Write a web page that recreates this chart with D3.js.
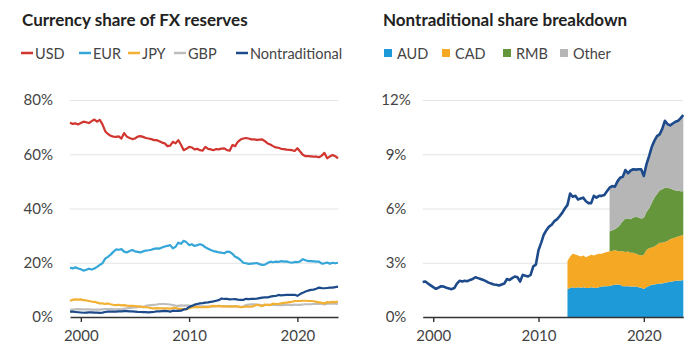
<!DOCTYPE html>
<html>
<head>
<meta charset="utf-8">
<script src="https://cdn.jsdelivr.net/npm/d3@7"></script>
<style>
  html, body { margin: 0; padding: 0; background: #fff; }
  svg { display: block; font-family: Lato, "Open Sans", sans-serif; }
</style>
</head>
<body>
<svg id="chart" width="700" height="359"></svg>
<script>
// ---- Data (quarterly, 1999Q1 .. 2023Q4), percent of allocated reserves ----
const startYear = 1999;
const quarters = d3.range(100).map(i => startYear + i / 4);

const usd = [
  71.6, 71.2, 71.4, 71.0,  71.5, 72.0, 71.8, 71.5,  72.2, 72.8, 72.0, 72.7,
  71.0, 68.5, 67.5, 66.8,  66.5, 66.4, 66.6, 65.8,  67.8, 66.5, 66.0, 65.6,
  65.8, 66.5, 66.7, 66.4,  66.0, 65.8, 65.6, 65.2,  65.2, 64.8, 64.3, 64.0,
  63.0, 63.2, 64.6, 64.0,  65.2, 63.5, 61.5, 62.0,  62.7, 62.5, 61.8, 62.0,
  61.5, 61.3, 62.7, 62.0,  61.8, 61.5, 61.9, 61.8,  62.1, 62.2, 61.5, 61.3,
  63.4, 63.0, 64.6, 65.4,  65.8, 66.0, 65.8, 65.5,  65.5, 65.3, 65.4, 65.5,
  64.8, 64.0, 63.6, 63.0,  62.5, 62.4, 62.0, 61.9,  61.7, 61.6, 61.5, 61.2,
  62.2, 61.0, 59.8, 59.3,  59.3, 59.2, 59.1, 59.1,  58.9, 59.5, 60.5, 58.5,
  59.2, 59.7, 59.3, 58.5
];
const eur = [
  18.2, 17.9, 18.3, 17.9,  17.6, 17.1, 17.4, 17.8,  17.5, 17.9, 18.5, 19.2,
  19.8, 21.5, 22.2, 23.0,  24.0, 24.9, 24.8, 25.0,  24.1, 23.8, 24.3, 24.7,
  24.2, 24.0, 23.8, 24.2,  24.5, 24.6, 24.8, 25.1,  25.3, 25.2, 25.6, 26.0,
  26.2, 26.5, 25.3, 25.9,  27.4, 27.0, 28.1, 27.6,  26.5, 26.8, 26.2, 26.5,
  26.8, 26.5, 25.7, 25.2,  24.7, 24.3, 24.1, 23.8,  23.7, 23.5, 24.1, 24.0,
  23.3, 22.2, 21.8, 21.0,  20.0, 19.8, 19.6, 19.7,  19.8, 19.9, 19.5, 19.2,
  19.3, 19.9, 20.4, 20.2,  20.4, 20.3, 20.6, 20.4,  20.5, 20.2, 20.0, 20.3,
  20.2, 20.5, 21.3, 20.9,  20.6, 20.6, 20.5, 20.4,  20.4, 19.7, 19.8, 20.1,
  19.6, 20.0, 19.8, 20.0
];
const jpy = [
  6.0, 6.3, 6.5, 6.4,  6.5, 6.2, 6.1, 5.9,  5.7, 5.6, 5.3, 5.0,
  5.0, 4.8, 5.0, 4.7,  4.5, 4.4, 4.5, 4.3,  4.4, 4.2, 4.1, 4.1,
  4.0, 3.9, 3.8, 3.7,  3.6, 3.5, 3.3, 3.2,  3.3, 3.2, 3.2, 3.2,
  3.2, 3.1, 3.3, 3.4,  3.0, 3.0, 2.9, 2.9,  3.2, 3.5, 3.6, 3.7,
  3.6, 3.6, 3.7, 3.6,  4.0, 4.1, 4.0, 4.1,  3.9, 3.9, 3.9, 3.8,
  3.9, 3.9, 3.9, 3.6,  3.7, 3.8, 3.8, 3.8,  4.1, 4.5, 4.3, 4.0,
  4.6, 4.5, 4.4, 4.9,  4.8, 4.8, 5.0, 5.2,  5.3, 5.5, 5.6, 5.9,
  5.9, 5.9, 6.0, 6.0,  5.9, 5.9, 5.8, 5.6,  5.4, 5.2, 5.0, 5.5,
  5.4, 5.6, 5.5, 5.7
];
const gbp = [
  2.6, 2.7, 2.8, 2.9,  2.8, 2.8, 2.8, 2.8,  2.7, 2.7, 2.7, 2.7,
  2.8, 2.9, 2.9, 2.9,  2.8, 2.8, 2.9, 2.8,  3.0, 3.2, 3.3, 3.4,
  3.5, 3.6, 3.8, 3.6,  4.1, 4.3, 4.4, 4.5,  4.6, 4.8, 4.8, 4.8,
  4.7, 4.6, 4.4, 4.2,  4.1, 4.3, 4.2, 4.3,  4.2, 4.0, 3.9, 3.9,
  3.9, 3.9, 3.8, 3.8,  3.8, 3.9, 4.0, 4.0,  4.0, 3.9, 4.0, 4.0,
  3.9, 4.0, 3.8, 3.7,  3.8, 4.4, 4.6, 4.7,  4.7, 4.6, 4.5, 4.3,
  4.4, 4.5, 4.5, 4.5,  4.5, 4.4, 4.4, 4.4,  4.5, 4.5, 4.4, 4.6,
  4.5, 4.5, 4.6, 4.7,  4.7, 4.7, 4.8, 4.8,  4.8, 4.8, 4.6, 4.9,
  4.9, 4.9, 4.9, 4.8
];
const nontrad = [
  1.93, 1.96, 1.85, 1.75,  1.65, 1.56, 1.62, 1.70,  1.68, 1.62, 1.58, 1.54,
  1.60, 1.85, 2.00, 1.96,  2.00, 1.98, 2.05, 2.10,  2.20, 2.15, 2.10, 2.05,
  1.98, 1.90, 1.85, 1.80,  1.78, 1.74, 1.80, 1.85,  2.10, 2.05, 2.15, 2.24,
  2.20, 1.96, 2.33, 2.28,  2.24, 2.33, 2.80, 2.90,  3.70, 4.10, 4.55, 4.80,
  5.00, 5.10, 5.30, 5.40,  5.57, 5.76, 6.00, 6.20,  6.83, 6.65, 6.70, 6.50,
  6.55, 6.60, 6.40, 6.30,  6.30, 6.70, 6.60, 6.70,  6.70, 6.75, 6.95, 7.15,
  7.24, 7.20, 7.50, 7.70,  7.75, 8.13, 7.95, 8.10,  8.17, 8.15, 8.17, 8.17,
  7.80, 8.44, 8.90, 9.40,  9.74, 10.00, 10.10, 10.40,  10.85, 10.67, 10.60, 10.70,
  10.80, 10.85, 11.00, 11.17
];

// Breakdown of nontraditional share
// AUD & CAD from 2012Q4; RMB & Other from 2016Q4
const audCadStart = 2012.75;
const aud = [
  1.55,
  1.60, 1.65, 1.60, 1.65,  1.62, 1.65, 1.60, 1.60,  1.65, 1.62, 1.60, 1.65,
  1.68, 1.70, 1.70, 1.72,  1.75, 1.78, 1.80, 1.78,  1.70, 1.70, 1.70, 1.68,
  1.69, 1.68, 1.65, 1.62,  1.55, 1.65, 1.72, 1.78,  1.80, 1.82, 1.85, 1.85,
  1.90, 1.92, 1.95, 1.97,  2.00, 2.00, 2.02, 2.05
];
const cad = [
  1.55,
  1.75, 1.85, 1.85, 1.75,  1.73, 1.75, 1.70, 1.78,  1.79, 1.78, 1.85, 1.85,
  1.82, 1.85, 1.90, 1.91,  1.90, 1.92, 1.85, 1.85,  1.93, 1.90, 1.92, 1.87,
  1.86, 1.82, 1.79, 1.78,  1.89, 2.05, 2.08, 2.07,  2.10, 2.18, 2.25, 2.25,
  2.25, 2.28, 2.35, 2.38,  2.40, 2.45, 2.48, 2.50
];
const rmbOtherStart = 2016.75;
const rmb = [
  1.10,
  1.15, 1.15, 1.30, 1.47,  1.67, 1.85, 1.83, 1.85,  1.95, 2.05, 2.06, 2.05,
  2.04, 2.10, 2.20, 2.45,  2.70, 2.80, 2.90, 2.96,  3.00, 2.95, 2.80, 2.70,
  2.60, 2.53, 2.46, 2.41
];
const other = [
  2.42,
  2.44, 2.35, 2.55, 2.60,  2.45, 2.68, 2.50, 2.70,  2.67, 2.60, 2.67, 2.72,
  2.32, 2.64, 2.90, 3.10,  3.14, 3.20, 3.10, 3.34,  3.70, 3.52, 3.50, 3.65,
  3.80, 3.87, 4.04, 4.21
];

const leftTicksY = [0, 20, 40, 60, 80];
const rightTicksY = [0, 3, 6, 9, 12];
const xTicks = [2000, 2010, 2020];
const leftLegend = ["USD", "EUR", "JPY", "GBP", "Nontraditional"];
const rightLegend = ["AUD", "CAD", "RMB", "Other"];

const colors = {
  USD: "#d1352f", EUR: "#35a6d8", JPY: "#f2b134", GBP: "#bdbdbd", Nontraditional: "#1c4a8a",
  AUD: "#1f9ad8", CAD: "#f5a823", RMB: "#66963b", Other: "#b6b6b6"
};

// ---- Drawing ----
const svg = d3.select("#chart");
const textColor = "#444";
const gridColor = "#e4e4e4";
const axisColor = "#333";

function panel(cfg) {
  const x = d3.scaleLinear().domain([startYear, 2023.75]).range([cfg.x0, cfg.x1]);
  const y = d3.scaleLinear().domain([0, cfg.ymax]).range([317, 100]);
  const g = svg.append("g");

  const ya = d3.axisLeft(y).tickValues(cfg.yTicks).tickSize(-(cfg.x1 - cfg.x0))
    .tickPadding(cfg.tickPad).tickFormat(d => d + "%");
  const yg = g.append("g").attr("transform", `translate(${cfg.x0},0)`).call(ya);
  yg.select(".domain").remove();
  yg.selectAll(".tick line").attr("stroke", gridColor).attr("stroke-width", 1.2)
    .filter(d => d === 0).remove();
  yg.selectAll(".tick text").attr("fill", textColor).style("font-size", "15px")
    .style("font-family", "Lato, 'Open Sans', sans-serif")
    .attr("text-anchor", cfg.yAnchor).attr("x", cfg.yLabelX - cfg.x0);

  return { x, y, g };
}

function xAxis(p) {
  const xa = d3.axisBottom(p.x).tickValues(xTicks).tickSize(5).tickSizeOuter(0)
    .tickPadding(8).tickFormat(d3.format("d"));
  const xg = p.g.append("g").attr("transform", "translate(0,317)").call(xa);
  xg.select(".domain").attr("stroke", axisColor).attr("stroke-width", 1.6);
  xg.selectAll(".tick line").attr("stroke", axisColor).attr("stroke-width", 1.4);
  xg.selectAll(".tick text").attr("fill", textColor).style("font-size", "15px")
    .style("font-family", "Lato, 'Open Sans', sans-serif");
}

// Left panel
const L = panel({ x0: 70, x1: 338, ymax: 80, yTicks: leftTicksY, tickPad: 17, yAnchor: "end", yLabelX: 53 });
const leftSeries = [
  ["GBP", gbp], ["JPY", jpy], ["EUR", eur], ["USD", usd], ["Nontraditional", nontrad]
];
const lineL = d3.line().x((d, i) => L.x(quarters[i])).y(d => L.y(d));
leftSeries.forEach(([name, vals]) => {
  L.g.append("path").datum(vals).attr("d", lineL)
    .attr("fill", "none").attr("stroke", colors[name]).attr("stroke-width", 2.2)
    .attr("stroke-linejoin", "round");
});
xAxis(L);

// Right panel
const R = panel({ x0: 422.7, x1: 683.3, ymax: 12, yTicks: rightTicksY, tickPad: 10, yAnchor: "middle", yLabelX: 396 });
const area1Idx = Math.round((audCadStart - startYear) * 4);
const area2Idx = Math.round((rmbOtherStart - startYear) * 4);
const stackRows = aud.map((a, j) => {
  const i = area1Idx + j;
  const k = i - area2Idx;
  return {
    t: quarters[i], AUD: a, CAD: cad[j],
    RMB: k >= 0 ? rmb[k] : 0, Other: k >= 0 ? other[k] : 0, hasRO: k >= 0
  };
});
const stacked = d3.stack().keys(rightLegend)(stackRows);
const areaGen = d3.area().x(d => R.x(d.data.t)).y0(d => R.y(d[0])).y1(d => R.y(d[1]));
stacked.forEach(s => {
  const data = (s.key === "RMB" || s.key === "Other") ? s.filter(d => d.data.hasRO) : s;
  R.g.append("path").datum(data).attr("d", areaGen).attr("fill", colors[s.key]);
});
const lineR = d3.line().x((d, i) => R.x(quarters[i])).y(d => R.y(d));
R.g.append("path").datum(nontrad).attr("d", lineR)
  .attr("fill", "none").attr("stroke", colors.Nontraditional).attr("stroke-width", 2.6)
  .attr("stroke-linejoin", "round");
xAxis(R);

// Titles
svg.append("text").attr("x", 22).attr("y", 25.5).text("Currency share of FX reserves")
  .attr("fill", "#222").style("font-weight", 700).style("font-size", "17px");
svg.append("text").attr("x", 383).attr("y", 25.5).text("Nontraditional share breakdown")
  .attr("fill", "#222").style("font-weight", 700).style("font-size", "17px");

// Left legend (line swatches)
const legLX = [21, 79, 128, 174, 236];
const legL = svg.append("g");
leftLegend.forEach((name, i) => {
  const lx = legLX[i];
  legL.append("line").attr("x1", lx).attr("x2", lx + 12).attr("y1", 53).attr("y2", 53)
    .attr("stroke", colors[name]).attr("stroke-width", 2.5);
  legL.append("text").attr("x", lx + 14).attr("y", 58.5).text(name)
    .attr("fill", textColor).style("font-size", "14.5px");
});

// Right legend (square swatches)
const legRX = [384, 442, 503, 560];
const legR = svg.append("g");
rightLegend.forEach((name, i) => {
  const rx = legRX[i];
  legR.append("rect").attr("x", rx).attr("y", 49).attr("width", 8).attr("height", 8)
    .attr("fill", colors[name]);
  legR.append("text").attr("x", rx + 13).attr("y", 58.5).text(name)
    .attr("fill", textColor).style("font-size", "14.5px");
});
</script>
</body>
</html>
